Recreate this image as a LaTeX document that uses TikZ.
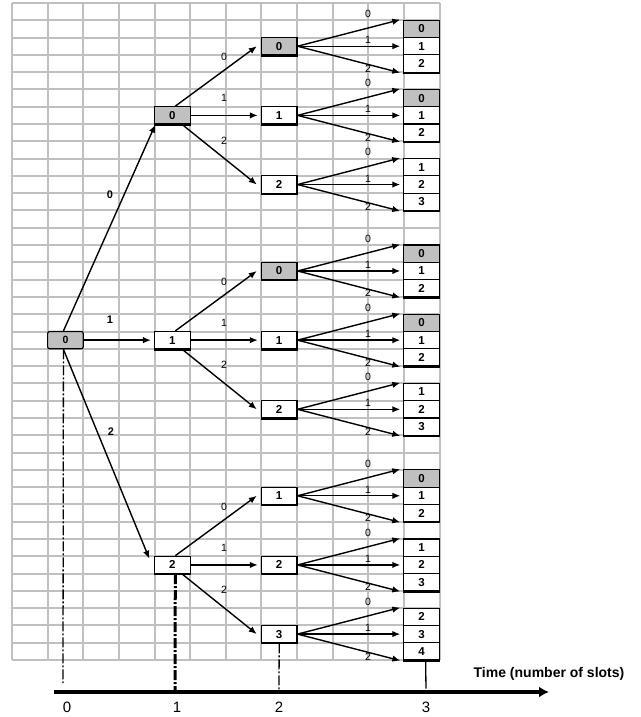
\documentclass[tikz,border=0pt]{standalone}
\usepackage{fontspec}
\setmainfont{Liberation Sans}
\usetikzlibrary{arrows.meta}
\definecolor{gridgray}{RGB}{192,192,192}
\definecolor{boxgray}{RGB}{192,192,192}
\newcommand{\cellnode}[5][]{%
  \node[cellbox,#1] (#2) at ({12+35.625*(#3+0.5)},{11.645+17.29*(#4)}) {#5};
  \draw[line width=2.2pt] (#2.south west) -- (#2.south east);
}
\begin{document}
\begin{tikzpicture}[x=1pt,y=-1pt,
  cellbox/.style={draw=black, line width=1.2pt, minimum width=35.6pt, minimum height=17.3pt,
    inner sep=0pt, font=\fontsize{11.5}{11.5}\selectfont\bfseries, fill=white},
  arr/.style={line width=1.4pt, -{Latex[length=8pt,width=6.5pt]}},
  elab/.style={font=\fontsize{10.5}{10.5}\selectfont, inner sep=0pt},
  blab/.style={font=\fontsize{11}{11}\selectfont\bfseries, inner sep=0pt},
  dd/.style={line width=1.3pt, dash pattern=on 10pt off 2pt on 2pt off 2pt},
  axlab/.style={font=\fontsize{15}{15}\selectfont, inner sep=0pt}
]
\useasboundingbox (0,0) rectangle (640,717);
% grid
\foreach \i in {0,...,12} \draw[gridgray, line width=2pt] ({12+35.625*\i},3) -- ({12+35.625*\i},660);
\foreach \j in {0,...,38} \draw[gridgray, line width=2pt] (12,{3+17.29*\j}) -- (439.5,{3+17.29*\j});

% level 0
\node[cellbox, fill=boxgray, rounded corners=2pt, font=\fontsize{10.5}{10.5}\selectfont\bfseries] (n0) at ({12+35.625*1.5},{11.645+17.29*19}) {0};

% level 1
\cellnode[fill=boxgray]{a}{4}{6}{0}
\cellnode{b}{4}{19}{1}
\cellnode{c}{4}{32}{2}

% level 2 and 3
\foreach \nm/\r/\v in {aa/2/0,ab/6/1,ac/10/2,ba/15/0,bb/19/1,bc/23/2,ca/28/1,cb/32/2,cc/36/3} {
  \pgfmathtruncatemacro\vz{max(\v-1,0)}
  \pgfmathtruncatemacro\va{\vz+1}
  \pgfmathtruncatemacro\vb{\vz+2}
  \ifnum\v=0 \def\fl{boxgray}\else\def\fl{white}\fi
  \ifnum\vz=0 \def\fz{boxgray}\else\def\fz{white}\fi
  \cellnode[fill=\fl]{\nm}{7}{\r}{\v}
  \cellnode[fill=\fz]{\nm0}{11}{\r-1}{\vz}
  \cellnode{\nm1}{11}{\r}{\va}
  \cellnode{\nm2}{11}{\r+1}{\vb}
  \draw[arr] (\nm.east) -- ([xshift=-3pt]\nm0.north west);
  \draw[arr] (\nm.east) -- ([xshift=-3pt]\nm1.west);
  \draw[arr] (\nm.east) -- ([xshift=-3pt]\nm2.south west);
  \node[elab] (\nm-l0) at (368,{11.645+17.29*(\r-1)-15}) {0};
  \node[elab] (\nm-l1) at (368,{11.645+17.29*\r-6}) {1};
  \node[elab] (\nm-l2) at (368,{11.645+17.29*(\r+1)+5}) {2};
}

% level 1 -> level 2
\foreach \p/\R in {a/6,b/19,c/32} {
  \draw[arr] ([xshift=3pt]\p.north) -- ([xshift=-4pt]\p a.west);
  \draw[arr] (\p.east) -- ([xshift=-3pt]\p b.west);
  \draw[arr] ([xshift=10pt]\p.south) -- ([xshift=-4pt]\p c.west);
  \node[elab] (\p-m0) at (224,{11.645+17.29*\R-58}) {0};
  \node[elab] (\p-m1) at (224,{11.645+17.29*\R-17}) {1};
  \node[elab] (\p-m2) at (224,{11.645+17.29*\R+25}) {2};
}

% level 0 -> level 1
\draw[arr] ([xshift=-2pt]n0.north) -- ([xshift=-17pt]a.south);
\draw[arr] (n0.east) -- ([xshift=-3pt]b.west);
\draw[arr] ([xshift=-2pt]n0.south) -- ([xshift=-23pt,yshift=-3pt]c.north);
\node[blab] (k0) at (110,195) {0};
\node[blab] (k1) at (110,320) {1};
\node[blab] (k2) at (111,432) {2};

% time axis
\coordinate (axL) at (54,692);
\coordinate (axR) at (549,692);
\draw[line width=4pt, -{Latex[length=10pt,width=11pt]}] (axL) -- (axR);
\coordinate (t0) at (63,683);
\coordinate (t1) at (175,692);
\coordinate (t2) at (279,692);
\coordinate (t3) at (426,692);
\draw[dd] ([xshift=-2pt]n0.south) -- (t0);
\draw[dd, line width=3pt] ([xshift=3pt]c.south) -- (t1);
\draw[dd] (cc.south) -- (t2);
\draw[line width=1.3pt, dash pattern=on 28pt off 2pt on 2pt off 2pt] ([xshift=4pt]cc2.south) -- (t3);
\node[axlab] (x0) at (67,707) {0};
\node[axlab] (x1) at (177,707) {1};
\node[axlab] (x2) at (279,707) {2};
\node[axlab] (x3) at (426,707) {3};
\node[font=\fontsize{14}{14}\selectfont\bfseries, inner sep=0pt] (tl) at (549,674) {Time (number of slots)};
\end{tikzpicture}
\end{document}
